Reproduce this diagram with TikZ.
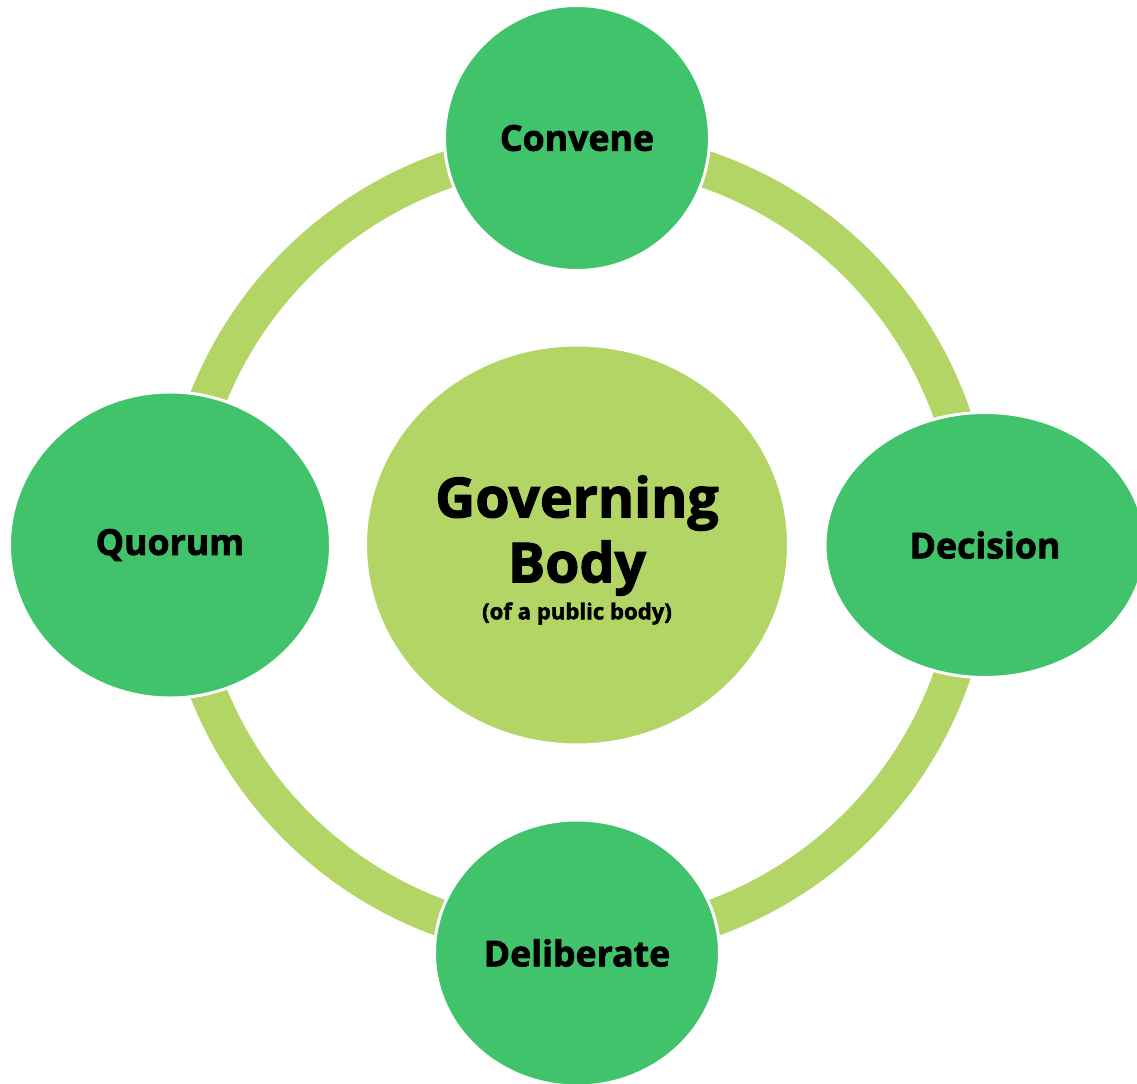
\documentclass[tikz,border=0pt]{standalone}
\usepackage{fontspec}
\setmainfont{Open Sans}[BoldFeatures={FakeBold=2}]
\usetikzlibrary{shapes.geometric}
\definecolor{leafgreen}{HTML}{41C36C}
\definecolor{limegreen}{HTML}{B3D566}

\begin{document}
\begin{tikzpicture}[
    stage/.style={ellipse, fill=leafgreen, draw=white, line width=1.7pt, inner sep=0pt,
      font=\bfseries\fontsize{20.3}{24}\selectfont},
    hub/.style={ellipse, fill=limegreen, draw=white, line width=1.7pt, inner sep=0pt},
    title/.style={align=center, inner sep=0pt, font=\bfseries\fontsize{31.5}{37}\selectfont},
    ring/.style={draw=limegreen, line width=21pt}
  ]
  \useasboundingbox (0,0) rectangle (22.74,-21.68);

  \node[hub, minimum width=8.46cm, minimum height=8cm] (body) at (11.54,-10.9) {};
  \node[title] (bodytitle) at ([yshift=-0.1cm]body.center)
    {Governing\\Body\\[-16pt]{\fontsize{12.6}{14}\selectfont (of a public body)}};

  % the cycle behind the four stages
  \draw[ring] (body.center) circle [radius=7.94];

  \node[stage, minimum width=5.3cm, minimum height=5.3cm] (convene) at (11.54,-2.76) {Convene};
  \node[stage, minimum width=6.4cm, minimum height=5.3cm] (decision) at (19.7,-10.9) {Decision};
  \node[stage, minimum width=5.7cm, minimum height=5.32cm] (deliberate) at (11.54,-19.06) {Deliberate};
  \node[stage, minimum width=6.42cm, minimum height=6.12cm] (quorum) at (3.4,-10.9) {Quorum};
\end{tikzpicture}
\end{document}
